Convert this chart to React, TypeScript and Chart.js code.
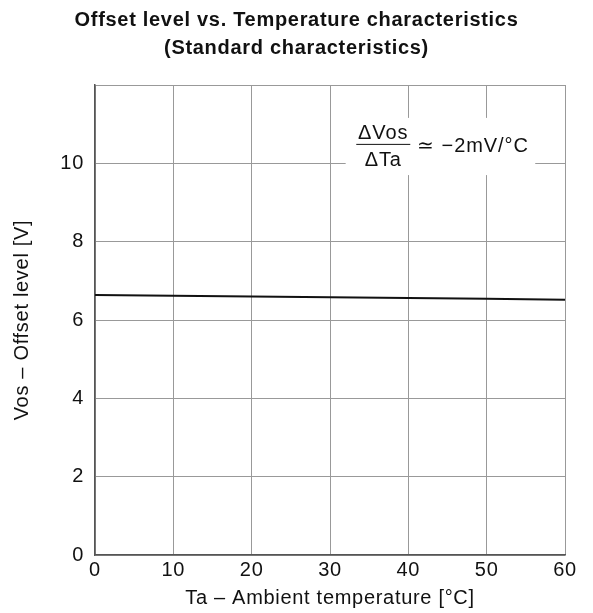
import React, { useEffect, useRef } from "react";
import { Chart, registerables } from "chart.js";

Chart.register(...registerables);

const temperatures = [0, 10, 20, 30, 40, 50, 60];
const offsetLevel = [6.64, 6.62, 6.6, 6.58, 6.56, 6.54, 6.52];
const xTicks = [0, 10, 20, 30, 40, 50, 60];
const yTicks = [0, 2, 4, 6, 8, 10, 12];
const titleLines = ["Offset level vs. Temperature characteristics", "(Standard characteristics)"];
const xTitle = "Ta \u2013 Ambient temperature [\u00b0C]";
const yTitle = "Vos \u2013 Offset level [V]";
const noteNumerator = "\u0394Vos";
const noteDenominator = "\u0394Ta";
const noteValue = "\u2243 \u22122mV/\u00b0C";

const FONT = "'Liberation Sans', Arial, Helvetica, sans-serif";
const SPACING = "0.7px";

const spacingPlugin = {
  id: "spacing",
  beforeLayout(chart: any) {
    chart.ctx.letterSpacing = SPACING;
  },
  beforeDraw(chart: any) {
    chart.ctx.letterSpacing = SPACING;
  },
};

const annotationPlugin = {
  id: "slopeNote",
  afterDatasetsDraw(chart: any) {
    const { ctx, scales } = chart;
    const xs = scales.x;
    const ys = scales.y;
    const left = xs.getPixelForValue(32);
    const right = xs.getPixelForValue(56.2);
    const top = ys.getPixelForValue(11.16);
    const bottom = ys.getPixelForValue(9.7);
    ctx.save();
    ctx.letterSpacing = "0.9px";
    ctx.fillStyle = "#fff";
    ctx.fillRect(left, top, right - left, bottom - top);
    ctx.fillStyle = "#111";
    ctx.strokeStyle = "#111";
    ctx.font = `20px ${FONT}`;
    ctx.textBaseline = "middle";
    const midY = ys.getPixelForValue(10.42);
    const fracCx = xs.getPixelForValue(36.8);
    ctx.textAlign = "center";
    ctx.fillText(noteNumerator, fracCx, midY - 13);
    ctx.fillText(noteDenominator, fracCx, midY + 13.5);
    ctx.lineWidth = 1;
    ctx.beginPath();
    ctx.moveTo(fracCx - 27, midY - 2.5);
    ctx.lineTo(fracCx + 27, midY - 2.5);
    ctx.stroke();
    ctx.textAlign = "left";
    ctx.fillText(noteValue, fracCx + 34, midY - 0.5);
    ctx.restore();
  },
};

export default function App() {
  const ref = useRef<HTMLCanvasElement | null>(null);
  useEffect(() => {
    if (!ref.current) return;
    const chart = new Chart(ref.current, {
      type: "line",
      data: {
        datasets: [
          {
            data: temperatures.map((t, i) => ({ x: t, y: offsetLevel[i] })),
            borderColor: "#111",
            borderWidth: 2,
            pointRadius: 0,
            fill: false,
            tension: 0,
            yAxisID: "y",
          },
        ],
      },
      plugins: [spacingPlugin, annotationPlugin],
      options: {
        animation: false,
        responsive: false,
        devicePixelRatio: 1,
        layout: { padding: 0 },
        plugins: {
          legend: { display: false },
          tooltip: { enabled: false },
          title: {
            display: true,
            text: titleLines,
            color: "#111",
            font: { family: FONT, size: 20, weight: "bold", lineHeight: 1.4 },
            padding: { top: 6, bottom: 23 },
          },
        },
        scales: {
          x: {
            type: "linear",
            min: 0,
            max: 60,
            afterBuildTicks: (s: any) => {
              s.ticks = xTicks.map((v) => ({ value: v }));
            },
            afterFit: (s: any) => {
              s.height = 58;
            },
            ticks: {
              color: "#111",
              font: { family: FONT, size: 20 },
              padding: 3,
              maxRotation: 0,
            },
            grid: { color: "#999", lineWidth: 1, drawTicks: false },
            border: { color: "#555", width: 1.5 },
            title: {
              display: true,
              text: xTitle,
              color: "#111",
              font: { family: FONT, size: 20 },
              padding: { top: 0, bottom: 3 },
            },
          },
          y: {
            type: "linear",
            position: "left",
            min: 0,
            max: 12,
            afterBuildTicks: (s: any) => {
              s.ticks = yTicks.map((v) => ({ value: v }));
            },
            afterFit: (s: any) => {
              s.width = 95;
            },
            ticks: {
              color: "#111",
              font: { family: FONT, size: 20 },
              padding: 11,
              callback: (v: any) => (v === 12 ? "" : String(v)),
            },
            grid: { color: "#999", lineWidth: 1, drawTicks: false },
            border: { color: "#555", width: 1.5 },
            title: {
              display: true,
              text: yTitle,
              color: "#111",
              font: { family: FONT, size: 20 },
              padding: { top: 10, bottom: 0 },
            },
          },
          yRight: {
            type: "linear",
            position: "right",
            min: 0,
            max: 12,
            afterFit: (s: any) => {
              s.width = 28;
            },
            ticks: { display: false },
            grid: { display: false, drawOnChartArea: false },
            border: { display: false },
          },
        },
      },
    } as any);
    return () => chart.destroy();
  }, []);
  return (
    <div style={{ position: "fixed", left: 0, top: 0, width: 593, height: 613, background: "#fff" }}>
      <canvas ref={ref} width={593} height={613} />
    </div>
  );
}
